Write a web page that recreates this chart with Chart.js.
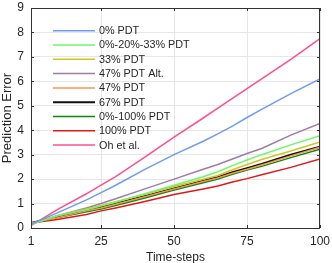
<!DOCTYPE html>
<html>
<head>
<meta charset="utf-8">
<script src="https://cdn.jsdelivr.net/npm/chart.js@4"></script>
<style>
  html, body { margin: 0; padding: 0; background: #fff; }
  #wrap { width: 332px; height: 263px; }
</style>
</head>
<body>
<div id="wrap"><canvas id="chart" width="332" height="263"></canvas></div>
<script>
// time-steps where values were read
const steps = [1, 10, 20, 25, 30, 40, 50, 60, 65, 70, 75, 80, 90, 100];
const xTicks = [1, 25, 50, 75, 100];

// series values (prediction error)
const pdt0       = [0.15, 0.62, 1.15, 1.45, 1.75, 2.40, 3.00, 3.55, 3.85, 4.17, 4.52, 4.85, 5.50, 6.10];
const pdt0_20_33 = [0.15, 0.50, 0.75, 0.90, 1.05, 1.40, 1.75, 2.10, 2.30, 2.55, 2.78, 3.00, 3.40, 3.78];
const pdt33      = [0.15, 0.50, 0.78, 0.92, 1.07, 1.38, 1.70, 2.00, 2.15, 2.38, 2.60, 2.80, 3.15, 3.52];
const pdt47alt   = [0.15, 0.50, 0.82, 1.00, 1.20, 1.60, 2.00, 2.40, 2.60, 2.82, 3.05, 3.25, 3.80, 4.28];
const pdt47      = [0.20, 0.42, 0.70, 0.82, 0.97, 1.28, 1.60, 1.90, 2.05, 2.24, 2.40, 2.58, 2.95, 3.30];
const pdt67      = [0.20, 0.45, 0.72, 0.86, 1.00, 1.30, 1.62, 1.92, 2.08, 2.28, 2.45, 2.62, 3.00, 3.33];
const pdt0_100   = [0.20, 0.42, 0.66, 0.78, 0.92, 1.23, 1.55, 1.85, 2.00, 2.20, 2.37, 2.52, 2.88, 3.22];
const pdt100     = [0.20, 0.35, 0.55, 0.70, 0.82, 1.08, 1.37, 1.60, 1.72, 1.88, 2.02, 2.18, 2.48, 2.82];
const ohEtAl     = [0.10, 0.75, 1.40, 1.75, 2.10, 2.90, 3.72, 4.50, 4.90, 5.30, 5.70, 6.10, 6.90, 7.75];

const seriesNames = ['0% PDT', '0%-20%-33% PDT', '33% PDT', '47% PDT Alt.', '47% PDT',
                     '67% PDT', '0%-100% PDT', '100% PDT', 'Oh et al.'];
const seriesValues = [pdt0, pdt0_20_33, pdt33, pdt47alt, pdt47, pdt67, pdt0_100, pdt100, ohEtAl];
const seriesColors = ['#6f9cf0', '#6ef56e', '#cfc61c', '#a07aa8', '#ff9452',
                      '#111111', '#0a8a0a', '#e01818', '#ff4f8b'];

const FONT = 'Liberation Sans, Arial, Helvetica, sans-serif';
const TEXT = '#262626';
const AXIS = '#333333';

// 凡例をプロット内部に描く
const innerLegend = {
  id: 'innerLegend',
  afterDatasetsDraw(chart) {
    const { ctx, chartArea } = chart;
    ctx.save();
    ctx.font = '10.8px ' + FONT;
    ctx.textBaseline = 'middle';
    chart.data.datasets.forEach((ds, i) => {
      const y = chartArea.top + 22.7 + i * 14.3;
      ctx.strokeStyle = ds.borderColor;
      ctx.lineWidth = ds.borderWidth;
      ctx.beginPath();
      ctx.moveTo(chartArea.left + 22, y);
      ctx.lineTo(chartArea.left + 64, y);
      ctx.stroke();
      ctx.fillStyle = TEXT;
      ctx.fillText(ds.label, chartArea.left + 68, y + 0.5);
    });
    ctx.restore();
  }
};

// 枠線と内向きの目盛り
const boxTicks = {
  id: 'boxTicks',
  afterDraw(chart) {
    const { ctx, chartArea: a, scales } = chart;
    ctx.save();
    ctx.strokeStyle = AXIS;
    ctx.lineWidth = 1;
    ctx.strokeRect(a.left + 0.5, a.top + 0.5, a.right - a.left - 1, a.bottom - a.top);
    ctx.beginPath();
    scales.y.ticks.forEach(t => {
      const y = Math.round(scales.y.getPixelForValue(t.value)) + 0.5;
      ctx.moveTo(a.left, y); ctx.lineTo(a.left + 3, y);
      ctx.moveTo(a.right, y); ctx.lineTo(a.right - 3, y);
    });
    scales.x.ticks.forEach(t => {
      const x = Math.round(scales.x.getPixelForValue(t.value)) + 0.5;
      ctx.moveTo(x, a.bottom); ctx.lineTo(x, a.bottom - 3);
      ctx.moveTo(x, a.top); ctx.lineTo(x, a.top + 3);
    });
    ctx.stroke();
    ctx.restore();
  }
};

const datasets = seriesNames.map((name, i) => ({
  label: name,
  data: steps.map((s, j) => ({ x: s, y: seriesValues[i][j] })),
  borderColor: seriesColors[i],
  backgroundColor: seriesColors[i],
  borderWidth: name === '67% PDT' ? 2 : 1.5,
  pointRadius: 0,
  tension: 0,
  fill: false
}));

new Chart(document.getElementById('chart').getContext('2d'), {
  type: 'line',
  data: { datasets },
  plugins: [innerLegend, boxTicks],
  options: {
    responsive: false,
    animation: false,
    layout: { padding: { top: 8, right: 12, left: 0, bottom: 0 } },
    plugins: { legend: { display: false }, tooltip: { enabled: false } },
    scales: {
      x: {
        type: 'linear',
        min: 1,
        max: 100,
        afterBuildTicks: scale => { scale.ticks = xTicks.map(v => ({ value: v })); },
        afterFit: scale => { scale.height = 35; scale.paddingLeft = 0; scale.paddingRight = 0; },
        grid: { color: '#e6e6e6', drawTicks: false },
        border: { display: false },
        ticks: { color: TEXT, font: { family: FONT, size: 12 }, padding: 6, maxRotation: 0 },
        title: { display: true, text: 'Time-steps', color: TEXT,
                 font: { family: FONT, size: 12 }, padding: { top: 0, bottom: -2 } }
      },
      y: {
        min: 0,
        max: 9,
        ticks: { stepSize: 1, color: TEXT, font: { family: FONT, size: 12 }, padding: 7 },
        afterFit: scale => { scale.width = 31; scale.paddingTop = 0; scale.paddingBottom = 0; },
        grid: { color: '#e6e6e6', drawTicks: false },
        border: { display: false },
        title: { display: true, text: 'Prediction Error', color: TEXT,
                 font: { family: FONT, size: 13 }, padding: 0 }
      }
    }
  }
});
</script>
</body>
</html>
